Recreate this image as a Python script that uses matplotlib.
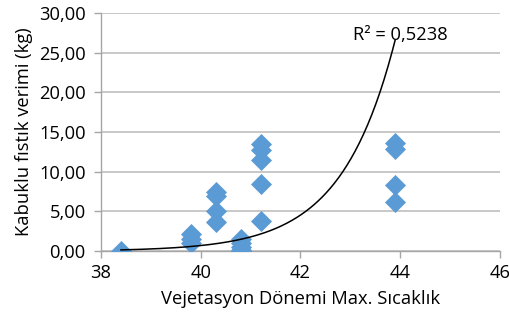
import matplotlib
matplotlib.use("Agg")
import matplotlib.pyplot as plt
import numpy as np

plt.rcParams['font.family'] = ['Open Sans', 'DejaVu Sans']

# -- Data -- #
temp = [38.4,
        39.8, 39.8, 39.8,
        40.3, 40.3, 40.3, 40.3,
        40.8, 40.8, 40.8, 40.8, 40.8,
        41.2, 41.2, 41.2, 41.2, 41.2,
        43.9, 43.9, 43.9, 43.9]
yield_kg = [0.0,
            2.1, 1.5, 1.0,
            7.5, 7.0, 5.0, 3.7,
            1.5, 1.0, 0.5, 0.1, 0.0,
            13.5, 12.7, 11.5, 8.5, 3.8,
            13.6, 12.9, 8.3, 6.2]

# exponential trendline, y = y0 * exp(b * (x - x0))
trend_x0 = 42.85
trend_y0 = 10.0
trend_b = 0.93
r2_text = 'R² = 0,5238'

x_ticks = [38, 40, 42, 44, 46]
y_ticks = [0, 5, 10, 15, 20, 25, 30]

fs = 13.2

fig = plt.figure(figsize=(5.1, 3.22), dpi=100)
ax = fig.add_axes([0.198, 0.22, 0.782, 0.74])

ax.scatter(temp, yield_kg, marker='D', s=115, color='#5B9BD5', zorder=3,
           linewidths=0)

xs = np.linspace(min(temp), max(temp), 200)
ax.plot(xs, trend_y0 * np.exp(trend_b * (xs - trend_x0)), color='black',
        linewidth=1.1, zorder=4)
ax.text(44.0, 27.2, r2_text, ha='center', va='center', fontsize=fs)

ax.set_xlim(38, 46)
ax.set_ylim(0, 30)
ax.set_xticks(x_ticks)
ax.set_yticks(y_ticks)
ax.set_yticklabels(['{:.2f}'.format(v).replace('.', ',') for v in y_ticks])
ax.yaxis.grid(True, color='#BFBFBF', linewidth=1.2)
ax.set_axisbelow(True)

for side in ['top', 'right']:
    ax.spines[side].set_visible(False)
for side in ['left', 'bottom']:
    ax.spines[side].set_color('#A6A6A6')
    ax.spines[side].set_linewidth(1.0)
ax.tick_params(colors='#A6A6A6', labelcolor='black', labelsize=fs,
               length=5, width=1.0)
ax.tick_params(axis='y', pad=6)
ax.tick_params(axis='x', pad=4)

ax.set_xlabel('Vejetasyon Dönemi Max. Sıcaklık', fontsize=fs, labelpad=6)
ax.set_ylabel('Kabuklu fıstık verimi (kg)', fontsize=fs, labelpad=4)

fig.savefig('out.png', dpi=100)
